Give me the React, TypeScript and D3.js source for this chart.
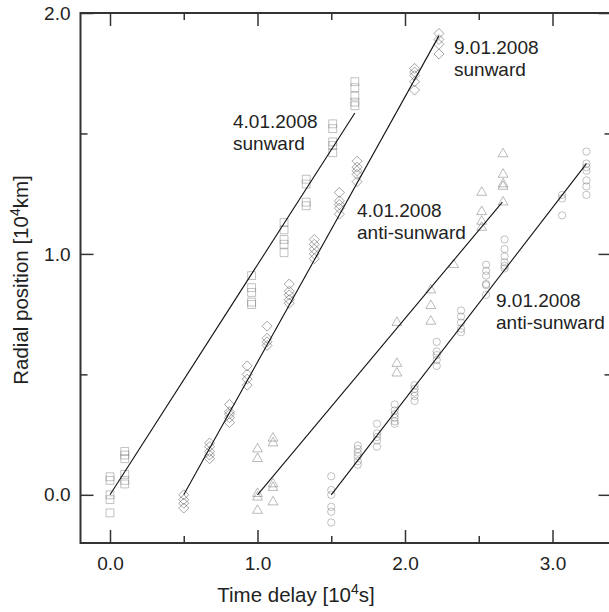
import React, { useRef, useEffect } from "react";
import * as d3 from "d3";

// time delay [10^4 s] of each sample column, and the radial positions [10^4 km] found there
const sun4X = [0, 0.1, 0.96, 1.18, 1.33, 1.51, 1.66];
const sun4Y = [
  [0.075, 0.06, 0.0, -0.02, -0.075],
  [0.18, 0.165, 0.15, 0.085, 0.06, 0.045],
  [0.91, 0.86, 0.84, 0.8, 0.79],
  [1.13, 1.1, 1.06, 1.04, 1.005],
  [1.31, 1.29, 1.215, 1.2],
  [1.54, 1.52, 1.465, 1.45, 1.42],
  [1.715, 1.69, 1.655, 1.63, 1.615],
];

const sun9X = [0.5, 0.675, 0.81, 0.93, 1.065, 1.215, 1.385, 1.555, 1.675, 2.065, 2.23];
const sun9Y = [
  [0.0, -0.02, -0.035, -0.055],
  [0.215, 0.2, 0.18, 0.165, 0.15],
  [0.375, 0.345, 0.335, 0.32, 0.3],
  [0.535, 0.5, 0.48, 0.455],
  [0.7, 0.65, 0.635, 0.62],
  [0.875, 0.845, 0.83, 0.81, 0.795],
  [1.06, 1.04, 1.02, 1.0, 0.98],
  [1.255, 1.22, 1.205, 1.19, 1.165],
  [1.385, 1.36, 1.345, 1.33, 1.3],
  [1.77, 1.755, 1.74, 1.715, 1.68],
  [1.915, 1.89, 1.87, 1.83],
];

const anti4X = [1.0, 1.105, 1.945, 2.175, 2.33, 2.52, 2.665];
const anti4Y = [
  [0.19, 0.15, 0.005, -0.01, -0.065],
  [0.235, 0.215, 0.045, 0.03, -0.03],
  [0.715, 0.545, 0.505],
  [0.85, 0.785, 0.72],
  [0.955],
  [1.255, 1.175, 1.135, 1.11],
  [1.415, 1.33, 1.29, 1.28, 1.215],
];

const anti9X = [1.5, 1.68, 1.81, 1.93, 2.065, 2.215, 2.38, 2.55, 2.675, 3.065, 3.23];
const anti9Y = [
  [0.077, 0.02, 0.0, -0.05, -0.07, -0.115],
  [0.205, 0.19, 0.175, 0.16, 0.14, 0.125],
  [0.295, 0.255, 0.24, 0.225, 0.2],
  [0.375, 0.35, 0.335, 0.32, 0.305, 0.295],
  [0.455, 0.44, 0.425, 0.41, 0.39],
  [0.635, 0.595, 0.58, 0.56, 0.535],
  [0.765, 0.74, 0.715, 0.69, 0.675],
  [0.955, 0.93, 0.91, 0.875, 0.87, 0.83],
  [1.06, 1.02, 0.99, 0.965, 0.95, 0.94],
  [1.245, 1.23, 1.16],
  [1.425, 1.375, 1.36, 1.345, 1.305, 1.28, 1.245],
];

// fitted lines, start and end
const fitSun4 = [[0, 0], [1.66, 1.585]];
const fitSun9 = [[0.5, 0], [2.23, 1.905]];
const fitAnti4 = [[1.0, 0], [2.66, 1.215]];
const fitAnti9 = [[1.5, 0], [3.23, 1.375]];

const xMajor = [0, 1, 2, 3];
const xMinor = [0.5, 1.5, 2.5];
const yMajor = [0, 1, 2];
const yMinor = [0.5, 1.5];

const labels = [
  { lines: ["4.01.2008", "sunward"], x: 233, y: 128 },
  { lines: ["9.01.2008", "sunward"], x: 454, y: 54 },
  { lines: ["4.01.2008", "anti-sunward"], x: 357, y: 217 },
  { lines: ["9.01.2008", "anti-sunward"], x: 496, y: 307 },
];

const FONT = "'Liberation Sans', Arial, Helvetica, sans-serif";

function flatten(xs: number[], ys: number[][]) {
  const out: [number, number][] = [];
  xs.forEach((x, i) => ys[i].forEach((y) => out.push([x, y])));
  return out;
}

function App() {
  const svgRef = useRef<SVGSVGElement>(null);

  useEffect(() => {
    const svg = d3.select(svgRef.current);
    svg.selectAll("*").remove();

    const x = d3.scaleLinear().domain([-0.2, 3.4]).range([80.5, 611.5]);
    const y = d3.scaleLinear().domain([-0.2, 2.0]).range([543, 13]);

    const series = [
      { pts: flatten(sun4X, sun4Y), sym: d3.symbolSquare, size: 62, rot: 0, c: "#777" },
      { pts: flatten(sun9X, sun9Y), sym: d3.symbolSquare, size: 50, rot: 45, c: "#444" },
      { pts: flatten(anti4X, anti4Y), sym: d3.symbolTriangle, size: 42, rot: 0, c: "#666" },
      { pts: flatten(anti9X, anti9Y), sym: d3.symbolCircle, size: 42, rot: 0, c: "#777" },
    ];

    series.forEach((s) => {
      const path = d3.symbol().type(s.sym).size(s.size)();
      svg
        .append("g")
        .selectAll("path")
        .data(s.pts)
        .join("path")
        .attr("d", path)
        .attr("transform", (d) => `translate(${x(d[0])},${y(d[1])}) rotate(${s.rot})`)
        .attr("fill", "none")
        .attr("stroke", s.c)
        .attr("stroke-opacity", 0.5)
        .attr("stroke-width", 0.9);
    });

    const fitLine = d3
      .line<number[]>()
      .x((d) => x(d[0]))
      .y((d) => y(d[1]));

    svg
      .append("g")
      .selectAll("path")
      .data([fitSun4, fitSun9, fitAnti4, fitAnti9])
      .join("path")
      .attr("d", fitLine)
      .attr("fill", "none")
      .attr("stroke", "#111")
      .attr("stroke-width", 1.1);

    // axes, ticks pointing inward on all four sides
    const addAxis = (axis: any, tf: string, vals: number[], size: number, showLabels: boolean, pad: number) => {
      const g = svg
        .append("g")
        .attr("transform", tf)
        .call(
          axis
            .tickValues(vals)
            .tickSize(-size)
            .tickPadding(pad)
            .tickFormat(showLabels ? d3.format(".1f") : () => "")
        );
      g.select(".domain").remove();
      g.selectAll("line").attr("stroke", "#333").attr("stroke-width", 1.5);
      g.selectAll("text")
        .attr("font-family", FONT)
        .attr("font-size", 19)
        .attr("fill", "#222");
    };

    addAxis(d3.axisBottom(x), "translate(0,543)", xMajor, 13, true, 14);
    addAxis(d3.axisBottom(x), "translate(0,543)", xMinor, 7, false, 0);
    addAxis(d3.axisTop(x), "translate(0,13)", xMajor, 13, false, 0);
    addAxis(d3.axisTop(x), "translate(0,13)", xMinor, 7, false, 0);
    addAxis(d3.axisLeft(y), "translate(80.5,0)", yMajor, 13, true, 10);
    addAxis(d3.axisLeft(y), "translate(80.5,0)", yMinor, 7, false, 0);
    addAxis(d3.axisRight(y), "translate(611.5,0)", yMajor, 13, false, 0);
    addAxis(d3.axisRight(y), "translate(611.5,0)", yMinor, 7, false, 0);

    svg
      .append("rect")
      .attr("x", 80.5)
      .attr("y", 13)
      .attr("width", 531)
      .attr("height", 530)
      .attr("fill", "none")
      .attr("stroke", "#333")
      .attr("stroke-width", 2);

    // series labels
    labels.forEach((l) => {
      const t = svg
        .append("text")
        .attr("x", l.x)
        .attr("y", l.y)
        .attr("font-family", FONT)
        .attr("font-size", 19)
        .attr("fill", "#222");
      l.lines.forEach((s, i) => {
        t.append("tspan").attr("x", l.x).attr("dy", i === 0 ? 0 : 22).text(s);
      });
    });

    // axis titles
    const xt = svg
      .append("text")
      .attr("x", 296)
      .attr("y", 602)
      .attr("text-anchor", "middle")
      .attr("font-family", FONT)
      .attr("font-size", 20.5)
      .attr("fill", "#222");
    xt.append("tspan").text("Time delay [10");
    xt.append("tspan").attr("dy", -8).attr("font-size", 14).text("4");
    xt.append("tspan").attr("dy", 8).text("s]");

    const yt = svg
      .append("text")
      .attr("transform", "translate(28,280) rotate(-90)")
      .attr("text-anchor", "middle")
      .attr("font-family", FONT)
      .attr("font-size", 20.5)
      .attr("fill", "#222");
    yt.append("tspan").text("Radial position [10");
    yt.append("tspan").attr("dy", -8).attr("font-size", 14).text("4");
    yt.append("tspan").attr("dy", 8).text("km]");
  }, []);

  return (
    <svg
      ref={svgRef}
      width={609}
      height={612}
      style={{ position: "absolute", left: 0, top: 0, background: "#fff" }}
    />
  );
}

export default App;
